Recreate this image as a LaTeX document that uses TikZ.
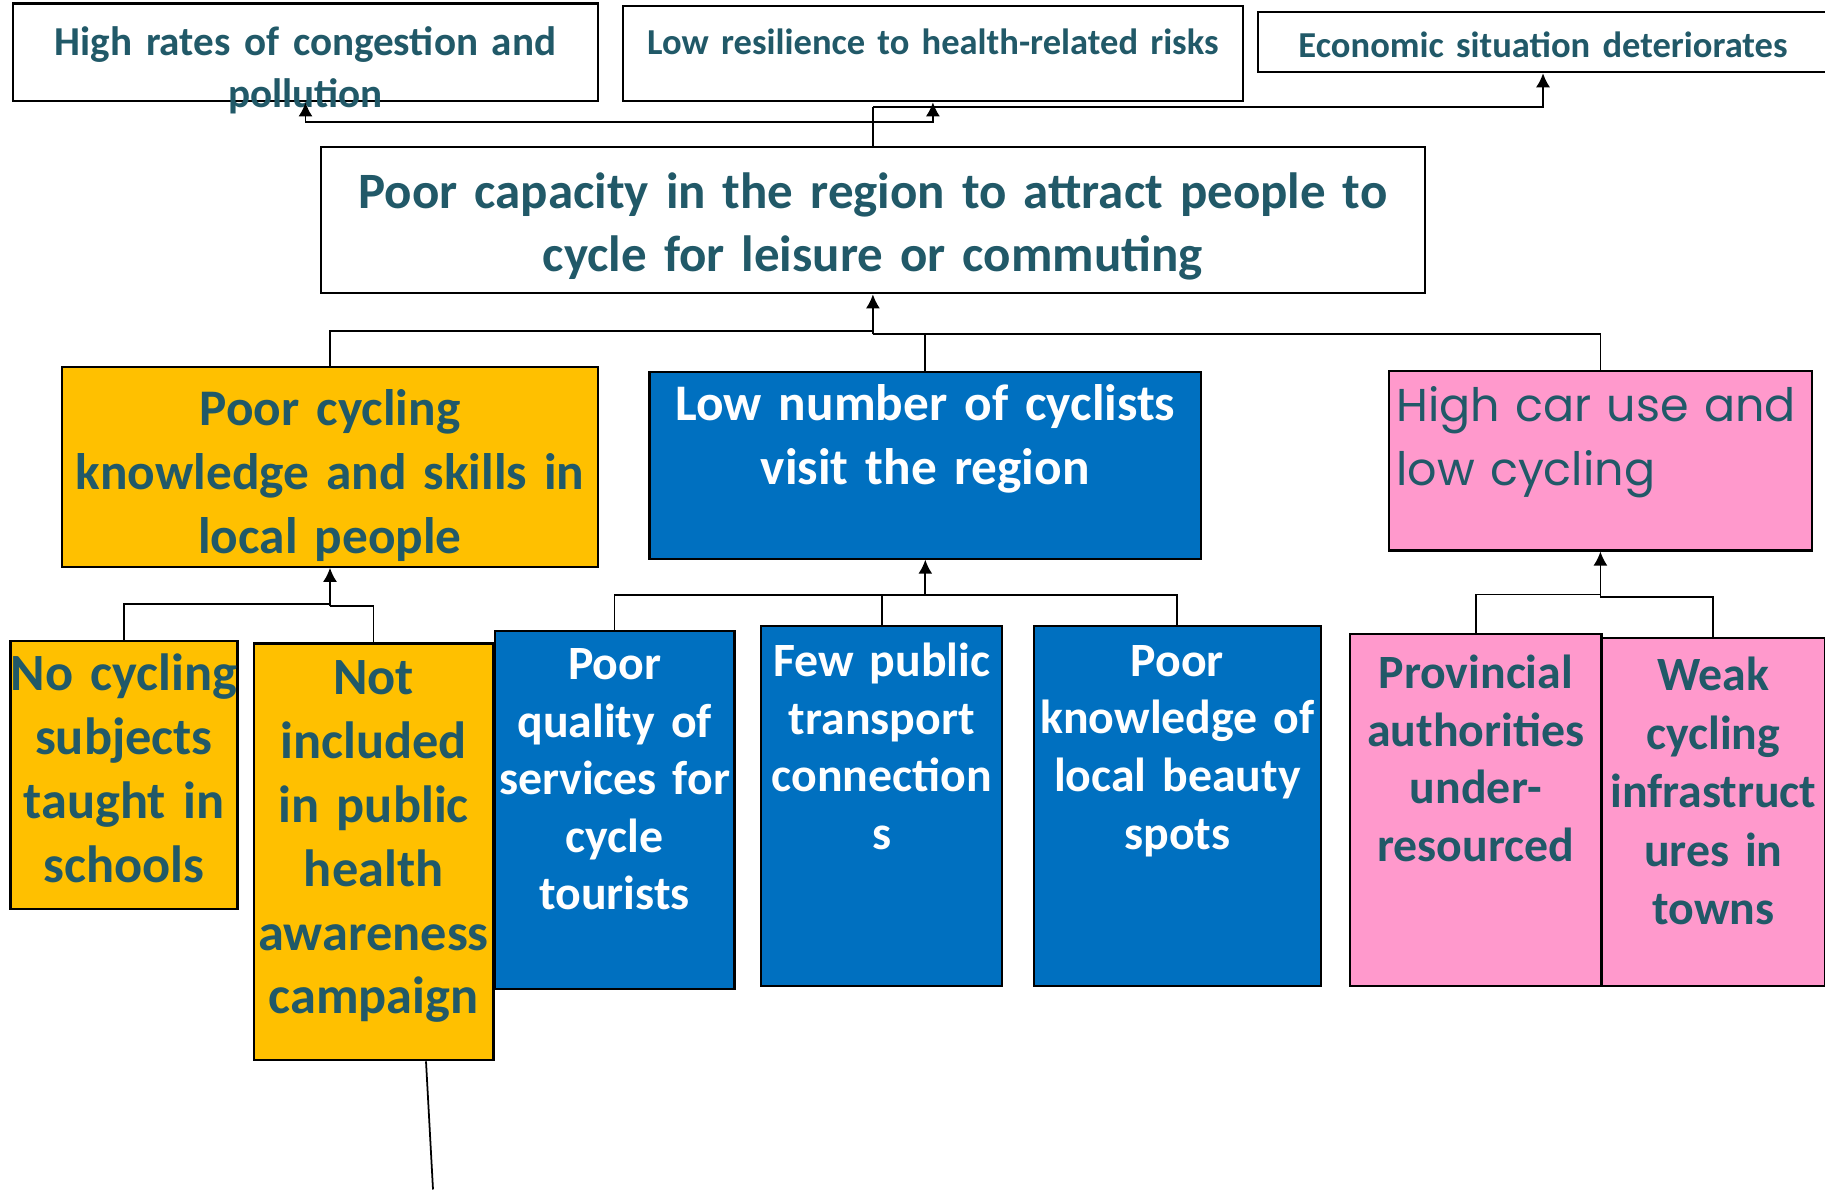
\documentclass[tikz,border=0pt]{standalone}
\usepackage{fontspec}
\setmainfont{Carlito}
\newfontfamily\gothic{Poppins}
\usepackage{xcolor}
\usetikzlibrary{positioning,calc,arrows.meta}

\definecolor{txtteal}{HTML}{215968}
\definecolor{boxyellow}{HTML}{FFC000}
\definecolor{boxblue}{HTML}{0070C0}
\definecolor{boxpink}{HTML}{FF99CC}

\newcommand{\fsA}{\fontsize{11.7}{15}\selectfont\bfseries}
\newcommand{\fsB}{\fontsize{10.4}{12}\selectfont\bfseries}
\newcommand{\fsMain}{\fontsize{14.5}{18.1}\selectfont\bfseries}
\newcommand{\fsBig}{\fontsize{14.6}{18.2}\selectfont\bfseries}
\newcommand{\fsYell}{\fontsize{14.9}{18.2}\selectfont\bfseries}
\newcommand{\fsCell}{\fontsize{13.6}{16.4}\selectfont\bfseries}
\newcommand{\fsGothic}{\gothic\fontsize{13.1}{18.2}\selectfont}

\tikzset{
    box/.style={draw=black, line width=0.6pt, inner sep=0pt},
    wbox/.style={box, fill=white},
    ybox/.style={box, fill=boxyellow},
    bbox/.style={box, fill=boxblue},
    pbox/.style={box, fill=boxpink},
    txt/.style={inner sep=0pt, align=center, text width=3.2cm, text=txtteal},
    wtxt/.style={txt, text=white},
    link/.style={draw=black, line width=0.5pt},
    arr/.style={link, -{Latex[length=4pt, width=4pt]}}
}

\begin{document}
\begin{tikzpicture}
    \useasboundingbox (0,0) rectangle (18.25,11.96);
    \fill[white] (0,0) rectangle (18.25,11.96);

    \node[wbox, minimum width=5.854cm, minimum height=0.978cm] (hirates) at (3.055,11.436) {};
    \node[txt, font=\fsA, text width=6.5cm, below=0.23cm of hirates.north] (hirates-t) {High rates of congestion and\\pollution};
    \node[wbox, minimum width=6.203cm, minimum height=0.955cm] (lowres) at (9.329,11.425) {};
    \node[txt, font=\fsB, text width=6.5cm, below=0.23cm of lowres.north] (lowres-t) {Low resilience to health-related risks};
    \node[wbox, minimum width=5.7cm, minimum height=0.606cm] (econ) at (15.43,11.541) {};
    \node[txt, font=\fsB, text width=6cm, below=0.21cm of econ.north] (econ-t) {Economic situation deteriorates};

    \node[wbox, minimum width=11.034cm, minimum height=1.466cm] (capacity) at (8.729,9.76) {};
    \node[txt, font=\fsMain, text width=11.5cm, below=0.26cm of capacity.north] (capacity-t) {Poor capacity in the region to attract people to\\cycle for leisure or commuting};

    \node[ybox, minimum width=5.365cm, minimum height=2.002cm] (knowl) at (3.3,7.293) {};
    \node[txt, font=\fsBig, text width=6cm, below=0.23cm of knowl.north] (knowl-t) {Poor cycling\\knowledge and skills in\\local people};
    \node[bbox, minimum width=5.516cm, minimum height=1.863cm] (visitors) at (9.253,7.305) {};
    \node[wtxt, font=\fsBig, text width=6cm, below=0.13cm of visitors.north] (visitors-t) {Low number of cyclists\\visit the region};
    \node[pbox, minimum width=4.237cm, minimum height=1.792cm] (caruse) at (16.004,7.351) {};
    \node[txt, font=\fsGothic, text width=4.2cm, align=left, anchor=north west] (caruse-t) at ($(caruse.north west)+(0.08,-0.16)$) {High car use and\\low cycling};

    \node[ybox, minimum width=2.269cm, minimum height=2.677cm] (noschool) at (1.24,4.209) {};
    \node[txt, font=\fsYell, below=0.13cm of noschool.north] (noschool-t) {No cycling\\subjects\\taught in\\schools};
    \node[ybox, minimum width=2.398cm, minimum height=4.167cm] (nocampaign) at (3.736,3.441) {};
    \node[txt, font=\fsYell, below=0.17cm of nocampaign.north] (nocampaign-t) {Not\\included\\in public\\health\\awareness\\campaign};

    \node[bbox, minimum width=2.397cm, minimum height=3.585cm] (services) at (6.146,3.86) {};
    \node[wtxt, font=\fsCell, below=0.18cm of services.north] (services-t) {Poor\\quality of\\services for\\cycle\\tourists};
    \node[bbox, minimum width=2.409cm, minimum height=3.596cm] (transport) at (8.817,3.9) {};
    \node[wtxt, font=\fsCell, below=0.17cm of transport.north] (transport-t) {Few public\\transport\\connection\\s};
    \node[bbox, minimum width=2.875cm, minimum height=3.596cm] (spots) at (11.773,3.9) {};
    \node[wtxt, font=\fsCell, below=0.195cm of spots.north] (spots-t) {Poor\\knowledge of\\local beauty\\spots};

    \node[pbox, minimum width=2.514cm, minimum height=3.515cm] (provincial) at (14.758,3.86) {};
    \node[txt, font=\fsCell, below=0.21cm of provincial.north] (provincial-t) {Provincial\\authorities\\under-\\resourced};
    \node[pbox, minimum width=2.236cm, minimum height=3.48cm] (infra) at (17.133,3.842) {};
    \node[txt, font=\fontsize{13.6}{16.6}\selectfont\bfseries, below=0.2cm of infra.north] (infra-t) {Weak\\cycling\\infrastruct\\ures in\\towns};

    \coordinate (j1) at ($(capacity.north)+(0,0.385)$);
    \coordinate (j1low) at ($(capacity.north)+(0,0.233)$);
    \draw[link] (capacity.north) -- (j1);
    \draw[arr] (j1) -| (econ.south);
    \draw[arr] (j1low) -| (hirates.south);
    \draw[arr] (j1low) -| (lowres.south);

    \coordinate (j2) at ($(capacity.south)+(0,-0.37)$);
    \coordinate (j2r) at ($(j2)+(0,-0.03)$);
    \draw[arr] (j2r) -- (capacity.south);
    \draw[link] (knowl.north) |- (j2) -- (j2r);
    \draw[link] (caruse.north) |- (j2r);
    \draw[link] (visitors.north) -- (visitors.north |- j2r);

    \coordinate (j3y) at ($(knowl.south)+(0,-0.36)$);
    \coordinate (j3yr) at ($(j3y)+(0,-0.025)$);
    \draw[arr] (j3yr) -- (knowl.south);
    \draw[link] (noschool.north) |- (j3y) -- (j3yr);
    \draw[link] (nocampaign.north) |- (j3yr);

    \coordinate (j3b) at ($(visitors.south)+(0,-0.35)$);
    \draw[arr] (j3b) -- (visitors.south);
    \draw[link] (services.north) |- (j3b) -| (spots.north);
    \draw[link] (transport.north) -- (transport.north |- j3b);

    \coordinate (j3p) at ($(caruse.south)+(0,-0.43)$);
    \coordinate (j3pr) at ($(j3p)+(0,-0.025)$);
    \draw[arr] (j3pr) -- (caruse.south);
    \draw[link] (provincial.north) |- (j3p) -- (j3pr);
    \draw[link] (infra.north) |- (j3pr);

    \coordinate (tail) at (4.33,0.065);
    \draw[link] ([xshift=0.524cm]nocampaign.south) -- (tail);
\end{tikzpicture}
\end{document}
